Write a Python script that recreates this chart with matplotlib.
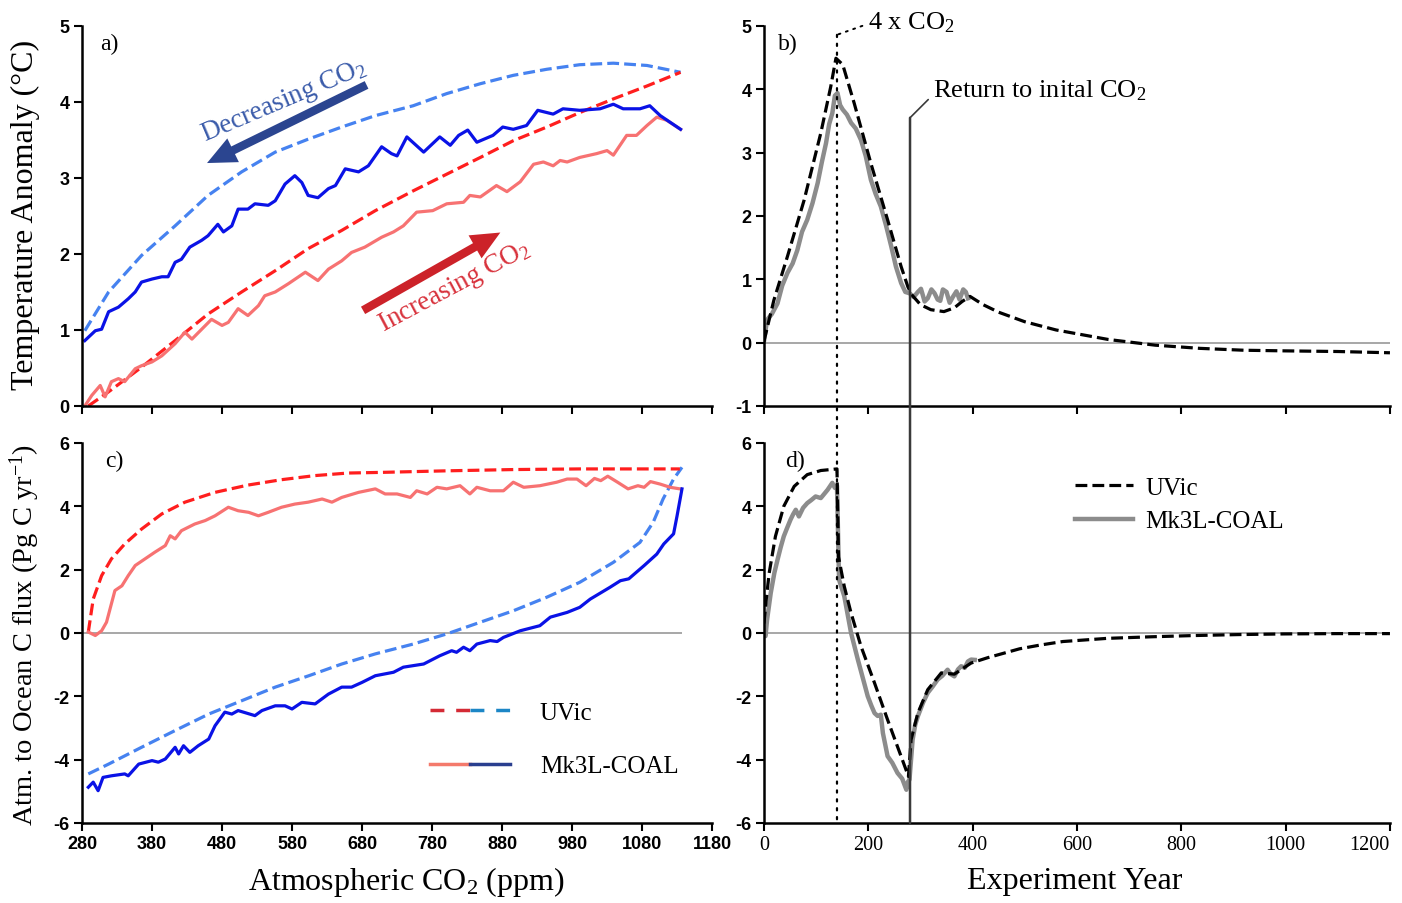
import matplotlib
matplotlib.use("Agg")
import matplotlib.pyplot as plt
from matplotlib.font_manager import FontProperties
from matplotlib.patches import ConnectionPatch
from matplotlib.lines import Line2D
from matplotlib.legend_handler import HandlerTuple

plt.rcParams['font.family'] = 'Liberation Serif'
plt.rcParams['mathtext.fontset'] = 'custom'
plt.rcParams['mathtext.rm'] = 'Liberation Serif'
plt.rcParams['mathtext.it'] = 'Liberation Serif:italic'
plt.rcParams['mathtext.bf'] = 'Liberation Serif:bold'
plt.rcParams['axes.unicode_minus'] = False

# ---- panel a: temperature anomaly vs atmospheric CO2 ----
co2_up_uvic = [289, 317, 365, 413, 460, 508, 556, 603, 651, 699, 753, 801, 849, 896, 944, 991, 1039, 1087, 1135]
temp_up_uvic = [0.0, 0.18, 0.51, 0.86, 1.21, 1.50, 1.78, 2.07, 2.31, 2.57, 2.83, 3.05, 3.27, 3.49, 3.67, 3.86,
                4.04, 4.21, 4.39]
co2_down_uvic = [284, 318, 365, 413, 460, 508, 556, 603, 651, 699, 753, 801, 849, 896, 944, 991, 1039, 1087, 1135]
temp_down_uvic = [0.99, 1.50, 1.98, 2.37, 2.77, 3.08, 3.34, 3.51, 3.67, 3.82, 3.95, 4.11, 4.24, 4.35, 4.43, 4.49,
                  4.51, 4.48, 4.39]
co2_up_mk3l = [284, 294, 306, 313, 322, 332, 341, 356, 365, 380, 394, 413, 427, 437, 451, 465, 480, 489, 503, 517,
               532, 541, 556, 575, 599, 617, 632, 651, 665, 684, 708, 725, 739, 758, 781, 801, 825, 834, 849, 872,
               887, 906, 925, 939, 953, 963, 973, 991, 1015, 1030, 1039, 1058, 1072, 1087, 1101, 1115, 1135]
temp_up_mk3l = [0.0, 0.14, 0.27, 0.12, 0.32, 0.36, 0.32, 0.49, 0.53, 0.58, 0.66, 0.82, 0.97, 0.88, 1.01, 1.14,
                1.06, 1.10, 1.28, 1.19, 1.32, 1.45, 1.50, 1.61, 1.76, 1.65, 1.80, 1.91, 2.02, 2.09, 2.22, 2.29,
                2.37, 2.55, 2.57, 2.66, 2.68, 2.77, 2.75, 2.90, 2.82, 2.95, 3.18, 3.21, 3.16, 3.23, 3.21, 3.27,
                3.32, 3.36, 3.30, 3.56, 3.56, 3.69, 3.80, 3.76, 3.64]
co2_down_mk3l = [284, 299, 308, 318, 332, 346, 356, 365, 380, 394, 403, 413, 422, 434, 451, 460, 474, 482, 494, 503,
                 517, 527, 546, 556, 570, 584, 594, 603, 617, 632, 642, 656, 675, 689, 708, 722, 730, 744, 768, 791,
                 806, 818, 831, 844, 867, 881, 896, 915, 931, 953, 967, 991, 1020, 1039, 1053, 1077, 1091, 1106, 1135]
temp_down_mk3l = [0.86, 0.99, 1.01, 1.24, 1.30, 1.41, 1.50, 1.63, 1.67, 1.70, 1.70, 1.89, 1.93, 2.09, 2.18, 2.24,
                  2.39, 2.29, 2.37, 2.59, 2.59, 2.66, 2.64, 2.70, 2.92, 3.03, 2.94, 2.77, 2.74, 2.86, 2.90, 3.12,
                  3.08, 3.16, 3.41, 3.32, 3.29, 3.54, 3.34, 3.54, 3.43, 3.56, 3.63, 3.47, 3.56, 3.67, 3.64, 3.69,
                  3.89, 3.84, 3.91, 3.89, 3.91, 3.97, 3.91, 3.91, 3.95, 3.82, 3.64]

# ---- panel c: atmosphere to ocean carbon flux vs atmospheric CO2 ----
co2_up_uvic_c = [289, 296, 308, 322, 341, 365, 394, 427, 470, 517, 565, 613, 660, 706, 801, 896, 991, 1134]
flux_up_uvic = [0.03, 1.07, 1.81, 2.34, 2.81, 3.28, 3.76, 4.13, 4.44, 4.67, 4.84, 4.97, 5.05, 5.07, 5.12, 5.16,
                5.18, 5.18]
co2_down_uvic_c = [289, 318, 365, 413, 461, 508, 556, 604, 651, 699, 753, 801, 849, 896, 944, 991, 1039, 1077,
                   1096, 1110, 1125, 1137]
flux_down_uvic = [-4.45, -4.14, -3.61, -3.08, -2.56, -2.14, -1.71, -1.35, -0.98, -0.66, -0.35, -0.03, 0.34, 0.70,
                  1.13, 1.60, 2.23, 2.86, 3.50, 4.23, 4.86, 5.23]
co2_up_mk3l_c = [289, 299, 308, 315, 327, 337, 346, 356, 370, 384, 399, 406, 413, 422, 441, 456, 470, 489, 503, 518,
                 532, 546, 565, 584, 603, 623, 637, 651, 675, 699, 713, 730, 749, 758, 773, 787, 801, 820, 834, 844,
                 863, 882, 896, 911, 934, 958, 973, 987, 1000, 1012, 1021, 1031, 1045, 1060, 1074, 1083, 1092, 1106,
                 1120, 1134]
flux_up_mk3l = [0.03, -0.08, 0.07, 0.34, 1.34, 1.49, 1.81, 2.13, 2.34, 2.55, 2.76, 3.07, 2.97, 3.23, 3.44, 3.55,
                3.70, 3.97, 3.86, 3.81, 3.70, 3.81, 3.97, 4.07, 4.13, 4.23, 4.13, 4.28, 4.44, 4.55, 4.39, 4.39,
                4.28, 4.49, 4.39, 4.60, 4.55, 4.65, 4.39, 4.60, 4.49, 4.49, 4.76, 4.60, 4.65, 4.76, 4.86, 4.86,
                4.65, 4.88, 4.81, 4.95, 4.76, 4.55, 4.65, 4.60, 4.78, 4.70, 4.60, 4.55]
co2_down_mk3l_c = [289, 296, 303, 310, 322, 341, 346, 361, 380, 389, 399, 413, 418, 425, 434, 446, 461, 470, 484,
                   494, 503, 527, 537, 556, 570, 580, 594, 613, 632, 651, 665, 680, 699, 725, 739, 768, 791, 808,
                   815, 825, 834, 844, 863, 873, 882, 906, 934, 949, 973, 991, 1006, 1034, 1049, 1061, 1083, 1101,
                   1111, 1125, 1130, 1137]
flux_down_mk3l = [-4.87, -4.71, -4.98, -4.56, -4.51, -4.45, -4.51, -4.14, -4.03, -4.08, -3.98, -3.61, -3.82, -3.56,
                  -3.77, -3.56, -3.35, -2.93, -2.50, -2.56, -2.45, -2.61, -2.45, -2.30, -2.30, -2.40, -2.19, -2.24,
                  -1.93, -1.71, -1.71, -1.56, -1.35, -1.24, -1.08, -0.98, -0.72, -0.56, -0.61, -0.45, -0.56, -0.35,
                  -0.24, -0.27, -0.14, 0.07, 0.23, 0.50, 0.65, 0.81, 1.07, 1.44, 1.65, 1.71, 2.13, 2.49, 2.81, 3.13,
                  3.70, 4.55]

# ---- panel b: temperature anomaly vs experiment year ----
year_uvic_b = [0, 19, 45, 77, 109, 128, 138, 151, 173, 205, 237, 263, 276, 284, 300, 320, 345, 365, 380, 395,
               420, 450, 500, 560, 600, 660, 750, 835, 920, 1000, 1100, 1200]
temp_uvic_b = [0.02, 0.67, 1.36, 2.25, 3.31, 4.04, 4.49, 4.39, 3.78, 2.83, 1.94, 1.20, 0.88, 0.75, 0.60, 0.52,
               0.49, 0.55, 0.65, 0.73, 0.60, 0.48, 0.33, 0.20, 0.14, 0.05, -0.04, -0.09, -0.12, -0.13, -0.14, -0.16]
year_mk3l_b = [0, 6, 15, 26, 35, 45, 55, 64, 73, 83, 93, 103, 111, 119, 125, 131, 136, 141, 146, 151, 159, 167,
               176, 186, 195, 205, 214, 224, 234, 244, 253, 263, 271, 279, 287, 295, 301, 308, 314, 321, 327, 333,
               338, 343, 350, 356, 362, 369, 375, 382, 387, 391]
temp_mk3l_b = [0.02, 0.36, 0.45, 0.62, 0.90, 1.10, 1.25, 1.46, 1.75, 1.94, 2.20, 2.52, 2.85, 3.15, 3.45, 3.62,
               3.90, 3.94, 3.75, 3.68, 3.60, 3.47, 3.38, 3.20, 2.95, 2.57, 2.35, 2.15, 1.85, 1.52, 1.20, 0.94,
               0.80, 0.78, 0.72, 0.80, 0.85, 0.65, 0.70, 0.84, 0.78, 0.68, 0.66, 0.84, 0.80, 0.63, 0.72, 0.81,
               0.68, 0.84, 0.80, 0.70]

# ---- panel d: carbon flux vs experiment year ----
year_uvic_d = [0, 4, 10, 22, 38, 58, 83, 109, 140, 143, 154, 167, 186, 212, 237, 263, 277, 282, 295, 314, 340,
               365, 397, 429, 490, 530, 573, 658, 743, 827, 912, 997, 1100, 1200]
flux_uvic_d = [0.3, 1.0, 1.89, 3.05, 4.0, 4.63, 5.0, 5.13, 5.18, 2.4, 1.47, 0.63, -0.42, -1.58, -2.74, -3.9,
               -4.53, -3.37, -2.53, -1.79, -1.26, -1.3, -0.95, -0.78, -0.5, -0.38, -0.27, -0.17, -0.12, -0.08,
               -0.05, -0.03, -0.02, -0.02]
year_mk3l_d = [0, 3, 6, 13, 20, 26, 32, 38, 44, 51, 56, 61, 67, 75, 83, 91, 99, 109, 116, 122, 131, 136, 140,
               144, 154, 167, 180, 190, 199, 206, 212, 218, 224, 228, 237, 246, 256, 265, 273, 276, 279, 282, 285,
               290, 295, 305, 314, 323, 333, 342, 352, 358, 365, 372, 378, 385, 391, 397, 404]
flux_mk3l_d = [0.0, -0.1, 0.42, 1.26, 1.9, 2.31, 2.7, 3.05, 3.3, 3.58, 3.75, 3.89, 3.68, 3.95, 4.1, 4.2, 4.31,
               4.26, 4.4, 4.52, 4.74, 4.58, 4.65, 1.68, 1.16, 0.0, -0.84, -1.45, -2.0, -2.3, -2.53, -2.62, -2.58,
               -3.16, -3.89, -4.1, -4.42, -4.6, -4.95, -4.7, -4.63, -4.0, -3.37, -2.9, -2.63, -2.2, -1.89, -1.7,
               -1.47, -1.35, -1.16, -1.3, -1.37, -1.15, -1.05, -1.1, -0.9, -0.84, -0.85]

year_4x = 140
year_return = 280

RED = '#FF1E1E'
LBLUE = '#4682F0'
SALMON = '#F77272'
BLUE = '#0A12E6'
GREY = '#8C8C8C'

tick_fp = FontProperties(family='Liberation Sans', weight='bold', size=13)
serif_tick_fp = FontProperties(family='Liberation Serif', size=14.5)


def style_axes(ax):
    for s in ['top', 'right']:
        ax.spines[s].set_visible(False)
    for s in ['left', 'bottom']:
        ax.spines[s].set_linewidth(1.8)
    ax.tick_params(direction='out', length=6, width=1.5, pad=3)


def bold_ticks(ax, axis='both'):
    labels = []
    if axis in ('both', 'y'):
        labels += ax.get_yticklabels()
    if axis in ('both', 'x'):
        labels += ax.get_xticklabels()
    for lbl in labels:
        lbl.set_fontproperties(tick_fp)


fig = plt.figure(figsize=(14.02, 9.04), dpi=100)
ax_a = fig.add_axes([0.0585, 0.5498, 0.4494, 0.4204])
ax_c = fig.add_axes([0.0585, 0.0885, 0.4494, 0.4204])
ax_b = fig.add_axes([0.5449, 0.5498, 0.4465, 0.4204])
ax_d = fig.add_axes([0.5449, 0.0885, 0.4465, 0.4204])

# panel a
ax_a.plot(co2_down_uvic, temp_down_uvic, color=LBLUE, lw=2.3, ls='--')
ax_a.plot(co2_up_uvic, temp_up_uvic, color=RED, lw=2.3, ls='--')
ax_a.plot(co2_up_mk3l, temp_up_mk3l, color=SALMON, lw=2.3)
ax_a.plot(co2_down_mk3l, temp_down_mk3l, color=BLUE, lw=2.3)
ax_a.set_xlim(280, 1180)
ax_a.set_ylim(0, 5)
ax_a.set_xticks(range(280, 1181, 100))
ax_a.set_yticks(range(0, 6))
style_axes(ax_a)
ax_a.tick_params(labelbottom=False)
bold_ticks(ax_a, 'y')
ax_a.text(0.029, 0.953, 'a)', transform=ax_a.transAxes, fontsize=17, va='center')

ax_a.annotate('', xy=(455, 3.18), xytext=(690, 4.24),
              arrowprops=dict(arrowstyle='simple,head_length=1.1,head_width=1.0,tail_width=0.32',
                              mutation_scale=19, color='#2B4590', lw=0))
ax_a.text(568, 4.02, 'Decreasing CO$_2$', rotation=23, rotation_mode='anchor', ha='center', va='center',
          fontsize=19.5, color='#3A5BAA')
ax_a.annotate('', xy=(881, 2.30), xytext=(678, 1.24),
              arrowprops=dict(arrowstyle='simple,head_length=1.1,head_width=1.0,tail_width=0.32',
                              mutation_scale=19, color='#CC2229', lw=0))
ax_a.text(813, 1.57, 'Increasing CO$_2$', rotation=28, rotation_mode='anchor', ha='center', va='center',
          fontsize=19.5, color='#D8323C')

# panel c
ax_c.hlines(0, 280, max(co2_down_mk3l_c), color='#A0A0A0', lw=1.3, zorder=1)
ax_c.plot(co2_down_uvic_c, flux_down_uvic, color=LBLUE, lw=2.3, ls='--')
ax_c.plot(co2_up_uvic_c, flux_up_uvic, color=RED, lw=2.3, ls='--')
ax_c.plot(co2_up_mk3l_c, flux_up_mk3l, color=SALMON, lw=2.3)
ax_c.plot(co2_down_mk3l_c, flux_down_mk3l, color=BLUE, lw=2.3)
ax_c.set_xlim(280, 1180)
ax_c.set_ylim(-6, 6)
ax_c.set_xticks(range(280, 1181, 100))
ax_c.set_yticks(range(-6, 7, 2))
style_axes(ax_c)
bold_ticks(ax_c)
ax_c.text(0.037, 0.953, 'c)', transform=ax_c.transAxes, fontsize=17, va='center')

uvic_proxy = (Line2D([], [], color='#D42A35', lw=2.5, dashes=(4, 3.4)),
              Line2D([], [], color='#1C86C6', lw=2.5, dashes=(4, 3.4)))
mk3l_proxy = (Line2D([], [], color='#F47A6C', lw=2.5), Line2D([], [], color='#2A3F8F', lw=2.5))
ax_c.legend([uvic_proxy, mk3l_proxy], ['UVic', 'Mk3L-COAL'],
            handler_map={tuple: HandlerTuple(ndivide=None, pad=0)},
            loc='upper left', bbox_to_anchor=(0.552, 0.321), frameon=False, fontsize=18,
            handlelength=3.2, labelspacing=1.25, handletextpad=1.2, borderpad=0, borderaxespad=0)

# panel b
ax_b.axhline(0, color='#A0A0A0', lw=1.3, zorder=1)
ax_b.plot(year_mk3l_b, temp_mk3l_b, color=GREY, lw=3.2)
ax_b.plot(year_uvic_b, temp_uvic_b, color='black', lw=2.3, ls='--')
ax_b.set_xlim(0, 1200)
ax_b.set_ylim(-1, 5)
ax_b.set_xticks(range(0, 1201, 200))
ax_b.set_yticks(range(-1, 6))
style_axes(ax_b)
ax_b.tick_params(labelbottom=False)
bold_ticks(ax_b, 'y')
ax_b.text(0.022, 0.953, 'b)', transform=ax_b.transAxes, fontsize=17, va='center')

# panel d
ax_d.axhline(0, color='#A0A0A0', lw=1.3, zorder=1)
h_mk3l, = ax_d.plot(year_mk3l_d, flux_mk3l_d, color=GREY, lw=3.2)
h_uvic, = ax_d.plot(year_uvic_d, flux_uvic_d, color='black', lw=2.3, ls='--')
ax_d.set_xlim(0, 1200)
ax_d.set_ylim(-6, 6)
ax_d.set_xticks(range(0, 1201, 200))
ax_d.set_yticks(range(-6, 7, 2))
style_axes(ax_d)
bold_ticks(ax_d, 'y')
d_xlabels = ax_d.get_xticklabels()
for lbl in d_xlabels:
    lbl.set_fontproperties(serif_tick_fp)
d_xlabels[-1].set_horizontalalignment('right')
ax_d.text(0.034, 0.953, 'd)', transform=ax_d.transAxes, fontsize=17, va='center')
ax_d.legend([h_uvic, h_mk3l], ['UVic', 'Mk3L-COAL'], loc='upper left', bbox_to_anchor=(0.497, 0.913),
            frameon=False, fontsize=18, handlelength=2.3, labelspacing=0.45, handletextpad=0.5,
            borderpad=0, borderaxespad=0)

# vertical markers spanning panels b and d
con4x = ConnectionPatch(xyA=(year_4x, 4.86), coordsA='data', axesA=ax_b,
                        xyB=(year_4x, -6), coordsB='data', axesB=ax_d,
                        color='black', lw=1.6, ls=(0, (1, 3)))
fig.add_artist(con4x)
con_ret = ConnectionPatch(xyA=(year_return, 3.55), coordsA='data', axesA=ax_b,
                          xyB=(year_return, -6), coordsB='data', axesB=ax_d,
                          color='#3A3A3A', lw=1.8)
fig.add_artist(con_ret)
ax_b.annotate('4 x CO$_2$', xy=(year_4x, 4.86), xytext=(199, 5.07), fontsize=19, va='center', ha='left',
              annotation_clip=False,
              arrowprops=dict(arrowstyle='-', ls=(0, (1, 3)), lw=1.4, color='black', shrinkA=2, shrinkB=0,
                              relpos=(0, 0.4)))
ax_b.annotate('Return to inital CO$_2$', xy=(year_return, 3.55), xytext=(324, 3.99), fontsize=19, va='center',
              ha='left', arrowprops=dict(arrowstyle='-', lw=1.2, color='#3A3A3A', shrinkA=2, shrinkB=0,
                                         relpos=(0, 0.3)))

# axis labels
fig.text(25 / 1402, 1 - 215 / 904, 'Temperature Anomaly (°C)', rotation=90, ha='center', va='center', fontsize=23)
fig.text(25 / 1402, 1 - 635 / 904, 'Atm. to Ocean C flux (Pg C yr$^{-1}$)', rotation=90, ha='center',
         va='center', fontsize=20.5)
fig.text(406 / 1402, 1 - 882 / 904, 'Atmospheric CO$_2$ (ppm)', ha='center', va='center', fontsize=23)
fig.text(1075 / 1402, 1 - 882 / 904, 'Experiment Year', ha='center', va='center', fontsize=23)

fig.savefig('out.png', dpi=100)
